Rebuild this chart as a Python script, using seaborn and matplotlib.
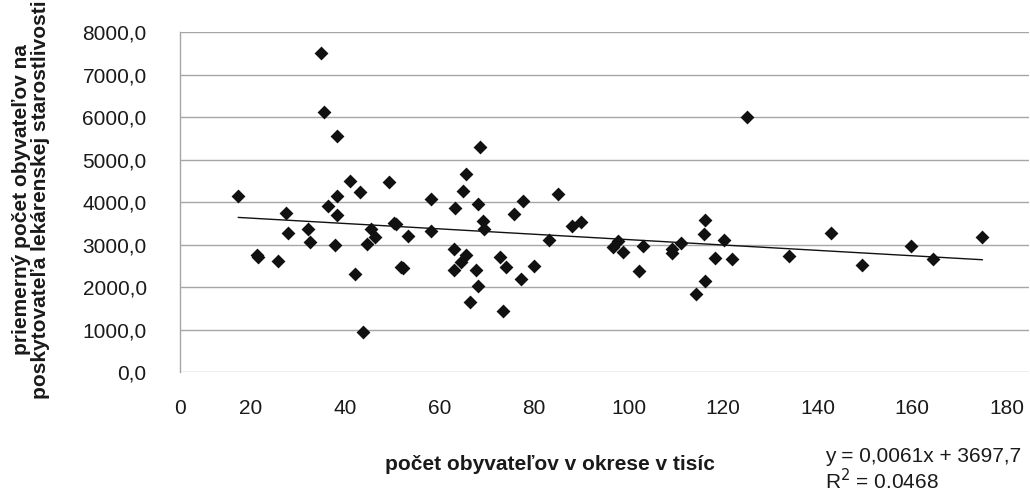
import matplotlib
matplotlib.use("Agg")
import matplotlib.pyplot as plt
import seaborn as sns
import pandas as pd

# pocet obyvatelov v okrese (v tisic) a priemerny pocet obyvatelov na poskytovatela
obyvatelia = [17.4, 35.0, 35.5, 38.4, 41.0, 43.1, 49.4, 38.3, 36.4, 38.4,
              27.5, 32.1, 28.0, 45.5, 46.4, 32.5, 37.9, 44.6, 21.3, 21.7,
              25.9, 42.1, 43.8,
              50.3, 50.8, 53.3, 51.8, 52.2, 58.1, 58.3, 63.2, 64.9, 65.7,
              68.6, 68.2, 69.2, 69.4, 63.0, 65.7, 64.5, 63.1, 67.7, 68.1,
              66.5, 72.7, 74.1, 73.5, 75.8, 77.6, 77.3, 79.9, 83.1, 85.1,
              88.0, 89.9,
              96.7, 97.8, 98.8, 102.3, 103.0, 109.1, 109.2, 111.2, 114.3, 116.2,
              116.0, 116.2, 118.3, 120.3, 122.0, 125.0, 133.9,
              142.9, 149.4, 159.7, 164.5, 174.9]
na_poskytovatela = [4144, 7499, 6126, 5548, 4497, 4238, 4466, 4152, 3917, 3705,
                    3752, 3369, 3275, 3369, 3173, 3056, 2992, 3024, 2760, 2720,
                    2624, 2311, 940,
                    3520, 3490, 3211, 2480, 2450, 4074, 3322, 3870, 4269, 4661,
                    5296, 3964, 3564, 3376, 2891, 2750, 2586, 2405, 2405, 2029,
                    1646, 2710, 2468, 1448, 3728, 4027, 2186, 2492, 3110, 4199,
                    3446, 3526,
                    2946, 3094, 2835, 2374, 2969, 2898, 2804, 3032, 1841, 2139,
                    3258, 3573, 2687, 3103, 2656, 5994, 2734,
                    3275, 2522, 2969, 2656, 3188]

x_ticky = [20, 40, 60, 80, 100, 120, 140, 160, 180]
y_ticky = [0, 1000, 2000, 3000, 4000, 5000, 6000, 7000, 8000]

df = pd.DataFrame({"x": obyvatelia, "y": na_poskytovatela})

sns.set_theme(style="white")
plt.rcParams["font.family"] = ["Liberation Sans", "DejaVu Sans"]

fig = plt.figure(figsize=(10.3, 4.93), dpi=100)
ax = fig.add_axes([0.1748, 0.2448, 0.8245, 0.6903])

# body + linearny trend
sns.regplot(data=df, x="x", y="y", ax=ax, ci=None, marker="D",
            scatter_kws={"s": 50, "color": "#111111", "linewidths": 0, "alpha": 1},
            line_kws={"color": "#111111", "linewidth": 1})

x_min = 5.1
ax.set_xlim(x_min, 184.8)
ax.set_ylim(0, 8000)
ax.set_xticks([x_min] + x_ticky)
ax.set_xticklabels(["0"] + [str(t) for t in x_ticky])
ax.set_yticks(y_ticky)
ax.set_yticklabels([f"{t},0" for t in y_ticky])
ax.tick_params(axis="x", length=0, pad=19, labelsize=15, colors="#1a1a1a")
ax.tick_params(axis="y", length=0, pad=24, labelsize=15, colors="#1a1a1a")

ax.grid(axis="y", color="#a6a6a6", linewidth=1)
ax.set_axisbelow(True)
for s in ["top", "right", "bottom"]:
    ax.spines[s].set_visible(False)
ax.spines["left"].set_color("#a6a6a6")
ax.spines["left"].set_linewidth(1)

ax.set_xlabel("")
ax.set_ylabel("")
fig.text(0.374, 0.057, "počet obyvateľov v okrese v tisíc", ha="left",
         va="center", fontsize=15, fontweight="bold", color="#1a1a1a")
fig.text(0.030, 0.595, "priemerný počet obyvateľov na\nposkytovateľa lekárenskej starostlivosti",
         ha="center", va="center", rotation=90, fontsize=15, fontweight="bold",
         color="#1a1a1a", linespacing=1.05)
fig.text(0.801, 0.047, "y = 0,0061x + 3697,7\nR$^2$ = 0.0468", ha="left",
         va="center", fontsize=15, color="#1a1a1a", linespacing=1.1)

fig.savefig("out.png", dpi=100)
